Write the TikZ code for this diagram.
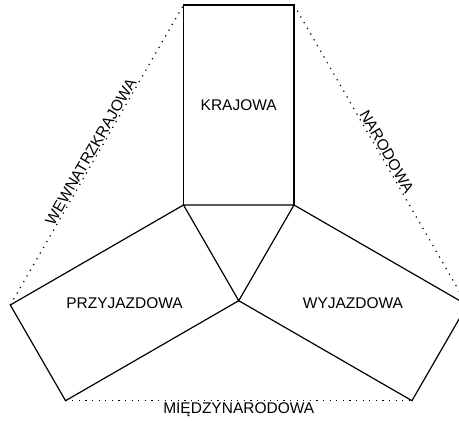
\documentclass[tikz,border=0pt]{standalone}
\usepackage{fontspec}
\setmainfont{Liberation Sans}
\usetikzlibrary{calc,positioning}
\tikzset{
  face/.style={line width=1.2pt,black,line join=miter},
  rim/.style={black,line width=1.2pt,dash pattern=on 1.2pt off 5.4pt},
  lbl/.style={font=\fontsize{15.5}{17}\selectfont,inner sep=0pt},
  rimlbl/.style={font=\fontsize{15.5}{17}\selectfont,inner sep=1pt,sloped}
}
\begin{document}
\begin{tikzpicture}[x=1pt,y=1pt]
\useasboundingbox (0,0) rectangle (459,421);
\clip (0,0) rectangle (459,421);
% middle triangle
\coordinate (tl) at (183.5,216);
\coordinate (tr) at (294,216);
\coordinate (bc) at (238.75,120.3);
% outer corners
\coordinate (tlo) at ($(tl)+(0,200)$);
\coordinate (tro) at ($(tr)+(0,200)$);
\coordinate (llo) at ($(tl)+(210:200)$);
\coordinate (lbo) at ($(bc)+(210:200)$);
\coordinate (rbo) at ($(bc)+(-30:200)$);
\coordinate (rro) at ($(tr)+(-30:200)$);
\draw[face] (tl) -- (tr) -- (bc) -- cycle;
\draw[face] (tl) -- (tlo) -- (tro) -- (tr);
\draw[face] (tl) -- (llo) -- (lbo) -- (bc);
\draw[face] (tr) -- (rro) -- (rbo) -- (bc);
% dotted rims
\draw[rim] (llo) -- node[rimlbl,above] (wew) {WEWNATRZKRAJOWA} (tlo);
\draw[rim] (tro) -- node[rimlbl,above] (nar) {NARODOWA} (rro);
\draw[rim] (lbo) -- node[rimlbl,below] (mie) {MIĘDZYNARODOWA} (rbo);
% labels
\node[lbl] (kra) at ($(tl)!0.5!(tro)$) {KRAJOWA};
\node[lbl] (prz) at ($(tl)!0.5!(lbo)$) {PRZYJAZDOWA};
\node[lbl] (wyj) at ($(tr)!0.5!(rbo)$) {WYJAZDOWA};
\end{tikzpicture}
\end{document}
